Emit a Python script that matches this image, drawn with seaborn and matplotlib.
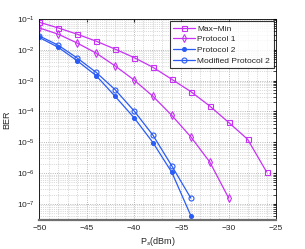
"""
BER versus source power for the relaying protocols
"""

import numpy as np
import pandas as pd
import matplotlib
matplotlib.use('Agg')
import matplotlib.pyplot as plt
import seaborn as sns

# values
ps_maxmin = [-50, -48, -46, -44, -42, -40, -38, -36, -34, -32, -30, -28, -26]
ber_maxmin = [7.8e-2, 5.1e-2, 3.2e-2, 1.9e-2, 1.05e-2, 5.6e-3, 2.7e-3,
              1.1e-3, 4.4e-4, 1.5e-4, 4.4e-5, 1.25e-5, 1.1e-6]

ps_p1 = [-50, -48, -46, -44, -42, -40, -38, -36, -34, -32, -30]
ber_p1 = [5.1e-2, 3.2e-2, 1.65e-2, 7.8e-3, 3.0e-3, 1.05e-3, 3.1e-4,
          7.4e-5, 1.5e-5, 2.3e-6, 1.55e-7]

ps_p2 = [-50, -48, -46, -44, -42, -40, -38, -36, -34]
ber_p2 = [2.5e-2, 1.2e-2, 4.4e-3, 1.45e-3, 3.1e-4, 6.3e-5, 9.8e-6,
          1.05e-6, 4.2e-8]
ber_mp2 = [2.8e-2, 1.4e-2, 5.4e-3, 1.85e-3, 5.1e-4, 1.05e-4, 1.7e-5,
           1.7e-6, 1.55e-7]

names = ['Max\u2212Min', 'Protocol 1', 'Protocol 2', 'Modified Protocol 2']

df = pd.concat([
    pd.DataFrame({'ps': ps_maxmin, 'ber': ber_maxmin, 'scheme': names[0]}),
    pd.DataFrame({'ps': ps_p1, 'ber': ber_p1, 'scheme': names[1]}),
    pd.DataFrame({'ps': ps_p2, 'ber': ber_p2, 'scheme': names[2]}),
    pd.DataFrame({'ps': ps_p2, 'ber': ber_mp2, 'scheme': names[3]}),
])

sns.set_style('white')
plt.rcParams['font.family'] = ['Liberation Sans', 'DejaVu Sans']

magenta = '#c832f5'
blue = '#2a5cf5'
palette = {names[0]: magenta, names[1]: magenta, names[2]: blue, names[3]: blue}
markers = {names[0]: 's', names[1]: 'd', names[2]: 'o', names[3]: 'o'}

fig = plt.figure(figsize=(3.05, 2.49), dpi=100)
ax = fig.add_axes([0.129, 0.116, 0.776, 0.808])

for name in names:
    sub = df[df['scheme'] == name]
    filled = name == 'Protocol 2'
    sns.lineplot(data=sub, x='ps', y='ber', ax=ax, color=palette[name],
                 marker=markers[name], markersize=2.8 if filled else 3.6,
                 markerfacecolor=palette[name] if filled else 'none',
                 markeredgecolor=palette[name], markeredgewidth=0.8,
                 linewidth=0.9, label=name, errorbar=None, sort=False)

ax.set_yscale('log')
ax.set_xlim(-50, -25)
ax.set_ylim(3e-8, 1e-1)
ax.set_xticks([-50, -45, -40, -35, -30, -25])
ax.set_yticks([1e-7, 1e-6, 1e-5, 1e-4, 1e-3, 1e-2, 1e-1])

ax.grid(True, which='major', linestyle=':', linewidth=0.6, color='#a0a0a0')
ax.grid(True, which='minor', axis='y', linestyle=':', linewidth=0.5, color='#b8b8b8')
ax.set_xticks(np.arange(-50, -25, 1), minor=True)
ax.grid(True, which='minor', axis='x', linestyle=':', linewidth=0.5, color='#b8b8b8')

ax.tick_params(axis='both', which='both', direction='in', labelsize=6,
               top=True, right=True, length=2.5)
ax.tick_params(axis='x', which='minor', length=0)
for sp in ax.spines.values():
    sp.set_color('black')
    sp.set_linewidth(0.6)
ax.spines['bottom'].set_color('#707070')
ax.spines['bottom'].set_linewidth(1.6)

ax.set_xlabel('P$_s$(dBm)', fontsize=6.5, labelpad=2)
ax.set_ylabel('BER', fontsize=6.5, labelpad=4)

leg = ax.legend(loc='upper right', fontsize=6, frameon=True, fancybox=False,
                borderpad=0.4, handlelength=2.6, labelspacing=0.35,
                borderaxespad=0.3, handletextpad=0.3)
leg.get_frame().set_edgecolor('black')
leg.get_frame().set_linewidth(0.8)

plt.savefig('out.png', dpi=100)
plt.close()
